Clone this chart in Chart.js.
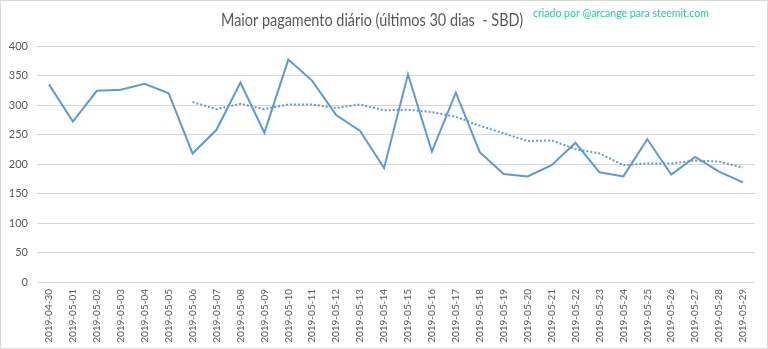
<!DOCTYPE html>
<html>
<head>
<meta charset="utf-8">
<script src="https://cdn.jsdelivr.net/npm/chart.js@4"></script>
<style>
  body { margin: 0; background: #fff; }
  .box { width: 768px; height: 349px; box-sizing: border-box; border: 1px solid #d9d9d9; position: relative; }
  canvas { position: absolute; left: 0; top: 0; }
</style>
</head>
<body>
<div class="box"><canvas id="grafico" width="768" height="349"></canvas></div>
<script>
// dados
const dias = ['2019-04-30', '2019-05-01', '2019-05-02', '2019-05-03', '2019-05-04', '2019-05-05',
  '2019-05-06', '2019-05-07', '2019-05-08', '2019-05-09', '2019-05-10', '2019-05-11', '2019-05-12',
  '2019-05-13', '2019-05-14', '2019-05-15', '2019-05-16', '2019-05-17', '2019-05-18', '2019-05-19',
  '2019-05-20', '2019-05-21', '2019-05-22', '2019-05-23', '2019-05-24', '2019-05-25', '2019-05-26',
  '2019-05-27', '2019-05-28', '2019-05-29'];
const maiorPagamento = [335, 272, 324, 326, 336, 320, 218, 258, 338, 253, 377, 341, 283, 256, 193,
  352, 221, 321, 220, 183, 179, 198, 236, 186, 179, 242, 182, 212, 187, 169];
const mediaMovel = [null, null, null, null, null, null, 305, 293, 302, 293, 301, 301, 295, 301, 291,
  292, 288, 280, 265, 252, 239, 240, 225, 218, 198, 201, 201, 206, 204, 194];
const ticksY = [0, 50, 100, 150, 200, 250, 300, 350, 400];

const titulo = 'Maior pagamento diário (últimos 30 dias  - SBD)';
const credito = 'criado por @arcange para steemit.com';

const fonte = 'Lato, "Liberation Sans", sans-serif';

// título e crédito desenhados no topo (largura limitada p/ imitar Calibri)
const textos = {
  id: 'textos',
  afterDraw(chart) {
    const c = chart.ctx;
    c.save();
    c.textBaseline = 'middle';
    c.textAlign = 'center';
    c.fillStyle = '#595959';
    c.font = '17px ' + fonte;
    c.fillText(titulo, 371, 20, 302);
    c.textAlign = 'left';
    c.fillStyle = '#1ed2a0';
    c.font = '10.5px ' + fonte;
    c.fillText(credito, 532, 13, 180);
    c.restore();
  }
};

const ctx = document.getElementById('grafico').getContext('2d');
const grafico = new Chart(ctx, {
  type: 'line',
  data: {
    labels: dias,
    datasets: [{
      data: maiorPagamento,
      borderColor: '#5b9bd5',
      borderWidth: 2,
      pointRadius: 0,
      tension: 0,
      fill: false
    }, {
      data: mediaMovel,
      borderColor: '#5b9bd5',
      borderWidth: 2,
      borderDash: [2, 2],
      pointRadius: 0,
      tension: 0,
      fill: false
    }]
  },
  options: {
    responsive: false,
    animation: false,
    layout: { padding: { top: 45, right: 14, left: 0, bottom: 0 } },
    plugins: { legend: { display: false }, tooltip: { enabled: false } },
    scales: {
      x: {
        offset: true,
        grid: { display: false, drawTicks: false },
        border: { display: false },
        ticks: {
          color: '#595959', font: { family: fonte, size: 10 },
          minRotation: 90, maxRotation: 90, autoSkip: false, padding: 7
        },
        afterFit: s => { s.height = 68; }
      },
      y: {
        min: 0, max: 400,
        afterBuildTicks: s => { s.ticks = ticksY.map(v => ({ value: v })); },
        grid: { color: '#d9d9d9', drawTicks: false },
        border: { display: false },
        ticks: { color: '#595959', font: { family: fonte, size: 11 }, padding: 9 },
        afterFit: s => { s.width = 36; }
      }
    }
  },
  plugins: [textos]
});
</script>
</body>
</html>
